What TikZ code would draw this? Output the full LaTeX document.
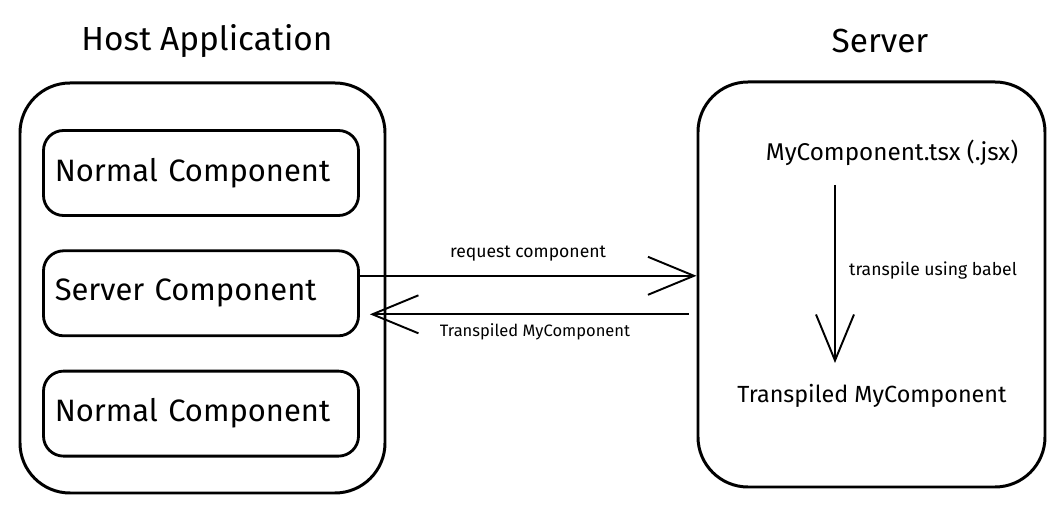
\documentclass[tikz,border=0pt]{standalone}
\usepackage{fontspec}
\setmainfont{Fira Sans}
\usetikzlibrary{arrows.meta,positioning,calc}

\begin{document}
\begin{tikzpicture}[
    node distance=0.65cm,
    container/.style={rectangle, draw, line width=1.7pt, rounded corners=1cm, minimum width=7.3cm, minimum height=8.2cm},
    comp/.style={rectangle, draw, line width=1.6pt, rounded corners=0.4cm, minimum width=6.3cm, minimum height=1.7cm, text width=5.85cm, align=left, font=\fontsize{17.6}{20}\selectfont},
    title/.style={font=\fontsize{19}{22}\selectfont},
    label/.style={font=\fontsize{10}{12}\selectfont},
    file/.style={font=\fontsize{13.8}{16}\selectfont},
    arrow/.style={-{Straight Barb[length=0.92cm, width=0.76cm, line width=1.1pt]}, line width=1.1pt}
]
\useasboundingbox (0,0) rectangle (21.26,-10.26);

% Host application
\node[container] (host) at (4.05,-5.76) {};
\node[title] (hosttitle) at (4.14,-0.82) {Host Application};

% Components - uno sotto l'altro
\node[comp] (normal1) at (4.02,-3.46) {Normal Component};
\node[comp, below=of normal1] (servercomp) {Server Component};
\node[comp, below=of servercomp] (normal2) {Normal Component};

% Server
\node[container, minimum width=6.94cm, minimum height=8.1cm] (server) at (17.43,-5.69) {};
\node[title] (servertitle) at (17.60,-0.82) {Server};

% Files on the server
\node[file] (source) at (17.84,-3.06) {MyComponent.tsx (.jsx)};
\node[file, font=\fontsize{13.3}{16}\selectfont] (transpiled) at (17.44,-7.92) {Transpiled MyComponent};

% Arrow for transpiling
\coordinate (babeltop) at (16.70,-3.70);
\coordinate (babelend) at (16.70,-7.26);
\draw[arrow] (babeltop) -- (babelend);
\node[label, anchor=west] (babel) at (16.86,-5.42) {transpile using babel};

% Request and response
\draw[arrow] ([yshift=0.35cm]servercomp.east) -- ([yshift=0.35cm]servercomp.east -| server.west);
\draw[arrow, shorten <=0.16cm] ([yshift=-0.42cm]servercomp.east -| server.west) -- ([xshift=0.2cm, yshift=-0.42cm]servercomp.east);

% Labels
\node[label] at (10.56,-5.08) {request component};
\node[label, font=\fontsize{9.4}{12}\selectfont] at (10.70,-6.64) {Transpiled MyComponent};

\end{tikzpicture}
\end{document}
